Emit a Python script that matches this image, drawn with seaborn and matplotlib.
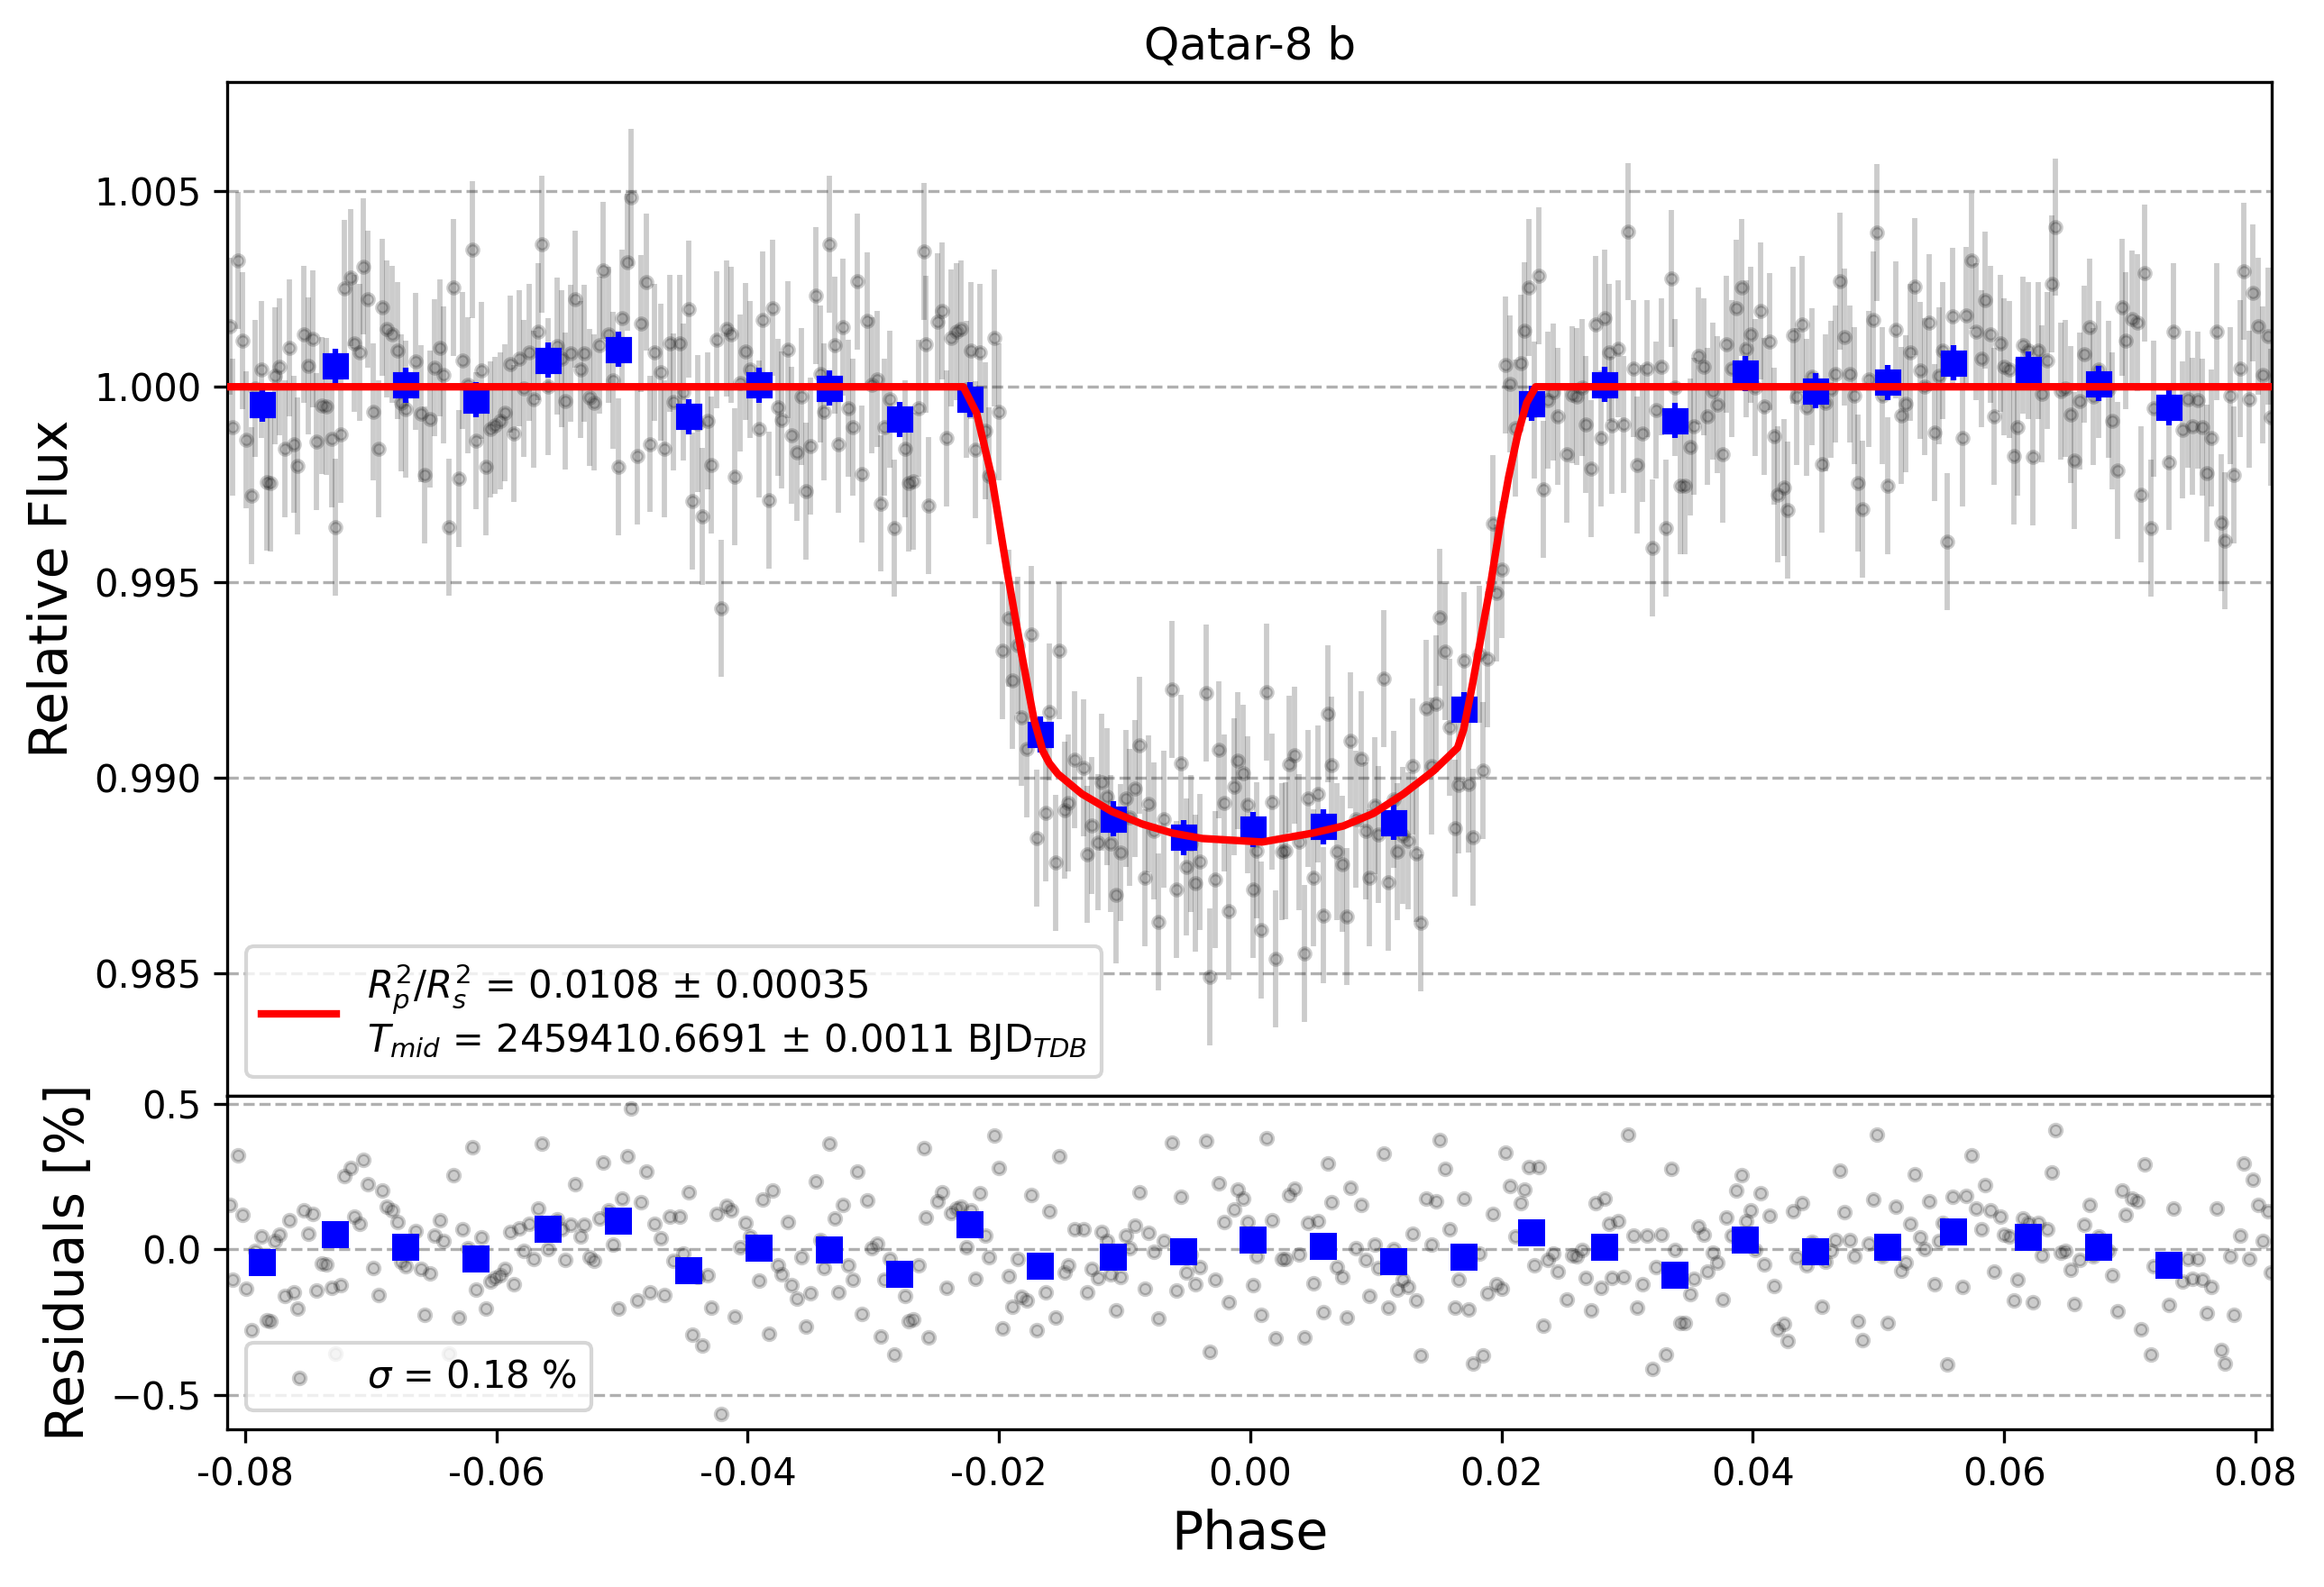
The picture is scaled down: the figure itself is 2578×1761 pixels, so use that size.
import numpy as np
import matplotlib
matplotlib.use("Agg")
import matplotlib.pyplot as plt
import seaborn as sns
from matplotlib.ticker import FormatStrFormatter

plt.rcParams['font.family'] = ['DejaVu Sans']

planet = "Qatar-8 b"
fit_label = ("$R^2_p/R^2_s$ = 0.0108 $\\pm$ 0.00035\n"
             "$T_{mid}$ = 2459410.6691 $\\pm$ 0.0011 BJD$_{TDB}$")
sigma_label = "$\\sigma$ = 0.18 %"

# residuals (%) of the single exposures
phase = [
    -0.0812, -0.0810, -0.0806, -0.0802, -0.0799, -0.0795, -0.0792, -0.0787, -0.0783, -0.0780,
    -0.0776, -0.0773, -0.0768, -0.0765, -0.0761, -0.0758, -0.0753, -0.0750, -0.0746, -0.0743,
    -0.0739, -0.0735, -0.0731, -0.0728, -0.0724, -0.0721, -0.0716, -0.0713, -0.0709, -0.0706,
    -0.0702, -0.0698, -0.0694, -0.0691, -0.0687, -0.0683, -0.0679, -0.0676, -0.0672, -0.0664,
    -0.0660, -0.0657, -0.0653, -0.0649, -0.0645, -0.0642, -0.0638, -0.0634, -0.0630, -0.0627,
    -0.0623, -0.0619, -0.0616, -0.0612, -0.0608, -0.0605, -0.0601, -0.0597, -0.0593, -0.0589,
    -0.0586, -0.0582, -0.0578, -0.0574, -0.0570, -0.0567, -0.0564, -0.0559, -0.0552, -0.0548,
    -0.0545, -0.0541, -0.0537, -0.0533, -0.0530,
    -0.0526, -0.0522, -0.0518, -0.0515, -0.0511, -0.0507, -0.0503, -0.0500, -0.0496, -0.0493,
    -0.0488, -0.0485, -0.0481, -0.0478, -0.0474, -0.0469, -0.0466, -0.0462, -0.0459, -0.0454,
    -0.0451, -0.0447, -0.0444, -0.0440, -0.0436, -0.0432, -0.0429, -0.0425, -0.0421, -0.0417,
    -0.0413, -0.0410, -0.0406, -0.0402, -0.0398, -0.0391, -0.0388, -0.0383, -0.0380, -0.0376,
    -0.0373, -0.0368, -0.0365, -0.0361, -0.0357, -0.0354, -0.0350, -0.0346, -0.0342, -0.0339,
    -0.0335, -0.0331, -0.0328, -0.0324, -0.0320, -0.0316, -0.0313, -0.0309, -0.0305, -0.0301,
    -0.0297, -0.0294, -0.0291, -0.0287, -0.0283, -0.0275, -0.0272, -0.0268, -0.0264, -0.0260,
    -0.0258, -0.0256,
    -0.0249, -0.0245, -0.0242, -0.0238, -0.0234, -0.0230, -0.0226, -0.0222, -0.0219, -0.0215,
    -0.0211, -0.0208, -0.0204, -0.0200, -0.0197, -0.0192, -0.0189, -0.0185, -0.0182, -0.0178,
    -0.0174, -0.0170, -0.0163, -0.0160, -0.0155, -0.0152, -0.0148, -0.0145, -0.0140, -0.0133,
    -0.0130, -0.0126, -0.0121, -0.0118, -0.0114, -0.0111, -0.0107, -0.0103, -0.0099, -0.0096,
    -0.0092, -0.0088, -0.0084, -0.0081, -0.0077, -0.0073, -0.0069, -0.0062, -0.0059, -0.0055,
    -0.0051, -0.0047, -0.0044, -0.0040, -0.0035, -0.0032, -0.0028, -0.0025, -0.0021, -0.0017,
    -0.0013, -0.0010, -0.0006, -0.0002, 0.0002, 0.0005, 0.0009, 0.0013, 0.0017, 0.0020,
    0.0025, 0.0028, 0.0031, 0.0035, 0.0039, 0.0043, 0.0046, 0.0050, 0.0054, 0.0058,
    0.0062, 0.0065, 0.0069, 0.0073, 0.0077, 0.0080, 0.0084, 0.0088, 0.0092, 0.0095,
    0.0099, 0.0102, 0.0106, 0.0110, 0.0114, 0.0117, 0.0121, 0.0126, 0.0129, 0.0132,
    0.0136, 0.0140, 0.0144, 0.0148, 0.0151, 0.0155, 0.0159, 0.0163, 0.0166, 0.0170,
    0.0174, 0.0177, 0.0182, 0.0185, 0.0189, 0.0193, 0.0196, 0.0200, 0.0203, 0.0207,
    0.0211, 0.0215, 0.0218, 0.0222, 0.0226, 0.0230, 0.0233, 0.0237, 0.0241, 0.0245,
    0.0252, 0.0256, 0.0260, 0.0264, 0.0267, 0.0271, 0.0275, 0.0279, 0.0282, 0.0286,
    0.0288,
    0.0293, 0.0297, 0.0301, 0.0305, 0.0308, 0.0312, 0.0316, 0.0320, 0.0323, 0.0327,
    0.0331, 0.0335, 0.0338, 0.0342, 0.0346, 0.0350, 0.0353, 0.0357, 0.0361, 0.0364,
    0.0368, 0.0372, 0.0376, 0.0379, 0.0383, 0.0387, 0.0391, 0.0395, 0.0398, 0.0402,
    0.0406, 0.0409, 0.0413, 0.0417, 0.0420, 0.0425, 0.0428, 0.0432, 0.0435, 0.0439,
    0.0443, 0.0447, 0.0455, 0.0458, 0.0462, 0.0466, 0.0469, 0.0473, 0.0477, 0.0481,
    0.0484, 0.0487, 0.0492, 0.0496, 0.0499, 0.0503, 0.0507, 0.0514, 0.0518, 0.0522,
    0.0525, 0.0529, 0.0533, 0.0537, 0.0540, 0.0545, 0.0548, 0.0551, 0.0555, 0.0559,
    0.0567, 0.0570, 0.0574, 0.0578, 0.0582, 0.0585, 0.0589, 0.0592, 0.0597, 0.0600,
    0.0604, 0.0608, 0.0611, 0.0615, 0.0619, 0.0623, 0.0627, 0.0630, 0.0634, 0.0638,
    0.0641, 0.0645, 0.0649, 0.0653, 0.0656, 0.0660, 0.0664, 0.0668, 0.0671, 0.0675,
    0.0683, 0.0686, 0.0690, 0.0694, 0.0697, 0.0702, 0.0706, 0.0709, 0.0712, 0.0717,
    0.0719, 0.0731, 0.0735, 0.0742, 0.0746, 0.0750, 0.0754, 0.0758, 0.0761, 0.0765,
    0.0769, 0.0773, 0.0776, 0.0780, 0.0783, 0.0788, 0.0791, 0.0795, 0.0798, 0.0802,
    0.0806, 0.0810, 0.0812,
]
residual = [
    0.154, -0.104, 0.324, 0.118, -0.135, -0.278, -0.004, 0.045, -0.244, -0.246,
    0.028, 0.051, -0.159, 0.100, -0.148, -0.202, 0.135, 0.054, 0.123, -0.140,
    -0.047, -0.050, -0.133, -0.359, -0.122, 0.252, 0.280, 0.112, 0.089, 0.308,
    0.223, -0.065, -0.158, 0.204, 0.147, 0.135, 0.093, -0.042, -0.058, 0.064,
    -0.068, -0.226, -0.082, 0.049, 0.100, 0.030, -0.359, 0.254, -0.235, 0.068,
    0.004, 0.350, -0.138, 0.041, -0.204, -0.109, -0.099, -0.087, -0.066, 0.059,
    -0.120, 0.073, -0.004, 0.089, -0.032, 0.140, 0.365, 0.001, 0.105, 0.071,
    -0.037, 0.085, 0.223, 0.045, 0.085,
    -0.027, -0.040, 0.107, 0.298, 0.133, 0.017, -0.204, 0.176, 0.319, 0.484,
    -0.176, 0.162, 0.267, -0.146, 0.087, 0.038, -0.158, 0.112, -0.039, 0.112,
    -0.013, 0.198, -0.293, -0.094, -0.331, -0.087, -0.200, 0.121, -0.566, 0.149,
    0.133, -0.231, 0.009, 0.090, 0.045, -0.107, 0.171, -0.290, 0.202, -0.053,
    -0.084, 0.094, -0.123, -0.168, -0.025, -0.266, -0.151, 0.233, 0.032, -0.065,
    0.365, 0.107, -0.148, 0.152, -0.055, -0.104, 0.269, -0.223, 0.169, 0.004,
    0.020, -0.298, -0.104, -0.032, -0.362, -0.159, -0.246, -0.241, -0.055, 0.347,
    0.109, -0.303,
    0.167, 0.195, -0.132, 0.125, 0.140, 0.147, 0.009, 0.133, -0.101, 0.192,
    0.047, -0.027, 0.391, 0.280, -0.272, -0.092, -0.197, -0.034, -0.163, -0.176,
    0.187, -0.278, -0.146, 0.131, -0.235, 0.319, -0.078, -0.053, 0.071, 0.068,
    -0.146, -0.066, -0.099, 0.059, 0.030, -0.084, -0.209, -0.096, 0.049, 0.004,
    0.082, 0.198, -0.135, 0.056, -0.008, -0.238, 0.028, 0.368, -0.142, 0.182,
    -0.080, -0.017, -0.118, -0.061, 0.373, -0.352, -0.104, 0.229, 0.094, -0.182,
    0.138, 0.205, 0.174, 0.094, -0.122, -0.022, -0.225, 0.381, 0.099, -0.305,
    -0.034, -0.032, 0.187, 0.208, -0.017, -0.303, 0.090, -0.115, 0.097, -0.216,
    0.297, 0.162, -0.061, -0.096, -0.235, 0.211, 0.004, 0.152, -0.037, -0.161,
    0.017, -0.063, 0.329, -0.200, 0.002, -0.137, -0.104, -0.130, 0.053, -0.176,
    -0.364, 0.174, 0.017, 0.164, 0.376, 0.276, 0.071, -0.200, -0.104, 0.174,
    -0.207, -0.393, -0.014, -0.365, -0.151, 0.121, -0.118, -0.135, 0.334, 0.218,
    0.045, 0.159, 0.207, 0.283, -0.053, 0.283, -0.262, -0.035, -0.013, -0.076,
    -0.173, -0.020, -0.024, -0.001, -0.097, -0.209, 0.159, -0.132, 0.176, 0.089,
    -0.099,
    0.097, -0.096, 0.396, 0.047, -0.200, -0.120, 0.047, -0.412, -0.060, 0.051,
    -0.362, 0.276, -0.001, -0.254, -0.254, -0.154, -0.101, 0.079, 0.051, -0.076,
    -0.011, -0.045, -0.173, 0.109, 0.047, 0.202, 0.254, 0.097, 0.133, -0.001,
    0.193, -0.050, 0.115, -0.127, -0.275, -0.257, -0.316, 0.131, -0.025, 0.159,
    -0.053, 0.025, -0.198, -0.042, -0.006, 0.032, 0.270, 0.128, 0.032, -0.022,
    -0.247, -0.313, 0.020, 0.171, 0.394, -0.022, -0.254, 0.146, -0.073, -0.044,
    0.087, 0.257, 0.042, 0.001, 0.164, -0.118, 0.028, 0.092, -0.395, 0.180,
    -0.130, 0.183, 0.322, 0.141, 0.071, 0.221, 0.135, -0.076, 0.112, 0.051,
    0.045, -0.176, -0.104, 0.107, 0.092, -0.180, 0.092, -0.019, 0.068, 0.264,
    0.409, -0.011, -0.004, -0.070, -0.189, -0.037, 0.084, 0.152, -0.024, 0.045,
    -0.006, -0.087, -0.213, 0.203, 0.118, 0.174, 0.164, -0.275, 0.291, -0.362,
    -0.056, -0.192, 0.141, -0.111, -0.032, -0.101, -0.034, -0.104, -0.220, -0.130,
    0.140, -0.347, -0.393, -0.022, -0.226, 0.047, 0.295, -0.032, 0.241, 0.154,
    0.030, 0.130, -0.078,
]
flux_err = 0.00175

# best-fit transit model
model_phase = [-0.0814, -0.02284, -0.02177, -0.02057, -0.01937, -0.01818, -0.01722,
               -0.01650, -0.01600, -0.01531, -0.01340, -0.01101, -0.00861, -0.00622,
               -0.00383, 0.00095, 0.00502, 0.00741, 0.00980, 0.01220, 0.01459, 0.01579,
               0.01650, 0.01698, 0.01770, 0.01841, 0.01913, 0.01985, 0.02056, 0.02128,
               0.02200, 0.02272, 0.0814]
model_flux = [1.0, 1.0, 0.99932, 0.99768, 0.99532, 0.99314, 0.99150,
              0.99068, 0.99038, 0.99010, 0.98959, 0.98914, 0.98882, 0.98859,
              0.98845, 0.98836, 0.98859, 0.98877, 0.98909, 0.98959, 0.99018, 0.99055,
              0.99077, 0.99123, 0.99241, 0.99368, 0.99495, 0.99641, 0.99768, 0.99877,
              0.99959, 1.0, 1.0]

# binned points
bin_phase = [-0.0786, -0.0728, -0.0672, -0.0616, -0.0559, -0.0503, -0.0447, -0.0391,
             -0.0335, -0.0279, -0.0223, -0.0167, -0.0109, -0.0053, 0.0002, 0.0058,
             0.0114, 0.0170, 0.0224, 0.0282, 0.0338, 0.0394, 0.0450, 0.0507,
             0.0560, 0.0619, 0.0675, 0.0731]
bin_flux = [0.99955, 1.00053, 1.00004, 0.99966, 1.00068, 1.00095, 0.99924, 1.00004,
            0.99996, 0.99917, 0.99968, 0.99111, 0.98895, 0.98848, 0.98868, 0.98875,
            0.98886, 0.99175, 0.99957, 1.00006, 0.99913, 1.00034, 0.99989, 1.00011,
            1.00061, 1.00045, 1.00008, 0.99947]
bin_res = [-0.045, 0.050, 0.006, -0.034, 0.071, 0.096, -0.074, 0.003,
           -0.003, -0.084, 0.084, -0.056, -0.025, -0.009, 0.031, 0.012,
           -0.043, -0.025, 0.056, 0.006, -0.087, 0.031, -0.009, 0.009,
           0.061, 0.043, 0.009, -0.053]
bin_err = 0.00045

phase = np.array(phase)
residual = np.array(residual)
flux = np.interp(phase, model_phase, model_flux) + residual / 100

fig = plt.figure(figsize=(2578 / 300, 1761 / 300), dpi=300)
ax_lc = fig.add_axes([0.0979, 0.3095, 0.8796, 0.6390])
ax_res = fig.add_axes([0.0979, 0.0994, 0.8796, 0.2101], sharex=ax_lc)

# light curve
ax_lc.errorbar(phase, flux, yerr=flux_err, fmt='o', color='k', alpha=0.2,
               ms=3, mew=1, elinewidth=1.4, zorder=2)
ax_lc.errorbar(bin_phase, bin_flux, yerr=bin_err, fmt='s', color='blue',
               ms=6, mew=1, elinewidth=1.5, zorder=3)
sns.lineplot(x=model_phase, y=model_flux, color='red', lw=2, ax=ax_lc,
             estimator=None, zorder=4, label=fit_label)
ax_lc.set_title(planet, fontsize=12)
ax_lc.set_ylabel("Relative Flux", fontsize=14)
ax_lc.set_ylim(0.98187, 1.0078)
ax_lc.set_yticks([0.985, 0.990, 0.995, 1.000, 1.005])
ax_lc.yaxis.set_major_formatter(FormatStrFormatter('%.3f'))
ax_lc.grid(True, axis='y', ls='--', color='#b0b0b0', lw=0.8)
ax_lc.tick_params(labelbottom=False)
ax_lc.legend(loc='lower left', fontsize=10)

# residuals
sns.scatterplot(x=phase, y=residual, color='k', alpha=0.2, s=10, marker='o',
                edgecolor='k', linewidth=1.0, ax=ax_res, zorder=2, label=sigma_label)
sns.scatterplot(x=bin_phase, y=bin_res, color='blue', marker='s', s=49,
                linewidth=0, ax=ax_res, zorder=3)
ax_res.set_ylim(-0.618, 0.528)
ax_res.set_yticks([-0.5, 0.0, 0.5])
ax_res.grid(True, axis='y', ls='--', color='#b0b0b0', lw=0.8)
ax_res.set_xlim(-0.0814, 0.0813)
ax_res.set_xticks([-0.08, -0.06, -0.04, -0.02, 0.00, 0.02, 0.04, 0.06, 0.08])
ax_res.xaxis.set_major_formatter(FormatStrFormatter('%.2f'))
ax_res.set_xlabel("Phase", fontsize=14)
ax_res.set_ylabel("Residuals [%]", fontsize=14)
ax_res.legend(loc='lower left', fontsize=10)

fig.savefig("out.png", dpi=300)
